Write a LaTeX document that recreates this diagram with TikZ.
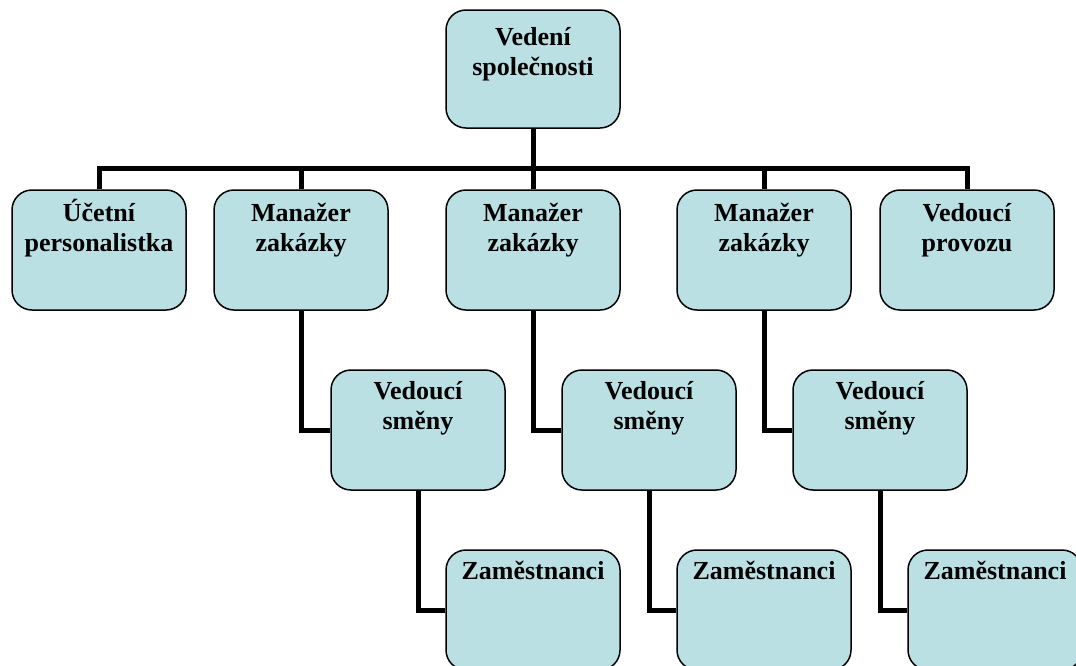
\documentclass[tikz,border=0pt]{standalone}
\usepackage{fontspec}
\setmainfont{Liberation Serif}
\usetikzlibrary{positioning}
\definecolor{orgfill}{RGB}{187,224,227}
\tikzstyle{orgbox} = [rectangle, rounded corners=20pt, minimum width=174pt, minimum height=120pt, draw=black, line width=1.5pt, fill=orgfill, inner sep=0pt]
\tikzstyle{orgtext} = [font=\fontsize{26}{30}\selectfont\bfseries, align=center, inner sep=0pt, anchor=north]
\tikzstyle{link} = [line width=5pt, color=black]
\newcommand{\topstrut}{\rule{0pt}{24pt}}

\begin{document}
\begin{tikzpicture}[x=1pt, y=1pt]
\useasboundingbox (0,0) rectangle (1076,-665);
% boxes
\node (vs) [orgbox, minimum height=118pt] at (533,-69) {};
\node (uc) [orgbox] at (99,-250) {};
\node (m1) [orgbox] at (301,-250) {};
\node (m2) [orgbox] at (533,-250) {};
\node (m3) [orgbox] at (764,-250) {};
\node (vp) [orgbox] at (967,-250) {};
\node (s1) [orgbox] at (418,-430) {};
\node (s2) [orgbox] at (649,-430) {};
\node (s3) [orgbox] at (880,-430) {};
\node (z1) [orgbox] at (533,-610) {};
\node (z2) [orgbox] at (764,-610) {};
\node (z3) [orgbox] at (995,-610) {};
% texts
\node (vst) [orgtext, below=12pt of vs.north] {\topstrut Vedení\\společnosti};
\node (uct) [orgtext, below=8pt of uc.north] {\topstrut Účetní\\personalistka};
\node (m1t) [orgtext, below=8pt of m1.north] {\topstrut Manažer\\zakázky};
\node (m2t) [orgtext, below=8pt of m2.north] {\topstrut Manažer\\zakázky};
\node (m3t) [orgtext, below=8pt of m3.north] {\topstrut Manažer\\zakázky};
\node (vpt) [orgtext, below=8pt of vp.north] {\topstrut Vedoucí\\provozu};
\node (s1t) [orgtext, below=6pt of s1.north] {\topstrut Vedoucí\\směny};
\node (s2t) [orgtext, below=6pt of s2.north] {\topstrut Vedoucí\\směny};
\node (s3t) [orgtext, below=6pt of s3.north] {\topstrut Vedoucí\\směny};
\node (z1t) [orgtext, below=6pt of z1.north] {\topstrut Zaměstnanci};
\node (z2t) [orgtext, below=6pt of z2.north] {\topstrut Zaměstnanci};
\node (z3t) [orgtext, below=6pt of z3.north] {\topstrut Zaměstnanci};
% connectors
\coordinate (bar) at (0,-168);
\draw[link] (vs.south) -- (vs.south |- bar);
\draw[link] (uc.north) -- (uc.north |- bar) -- (vp.north |- bar) -- (vp.north);
\draw[link] (m1.north) -- (m1.north |- bar);
\draw[link] (m2.north) -- (m2.north |- bar);
\draw[link] (m3.north) -- (m3.north |- bar);
\draw[link] (m1.south) |- (s1.west);
\draw[link] (m2.south) |- (s2.west);
\draw[link] (m3.south) |- (s3.west);
\draw[link] (s1.south) |- (z1.west);
\draw[link] (s2.south) |- (z2.west);
\draw[link] (s3.south) |- (z3.west);
\end{tikzpicture}
\end{document}
